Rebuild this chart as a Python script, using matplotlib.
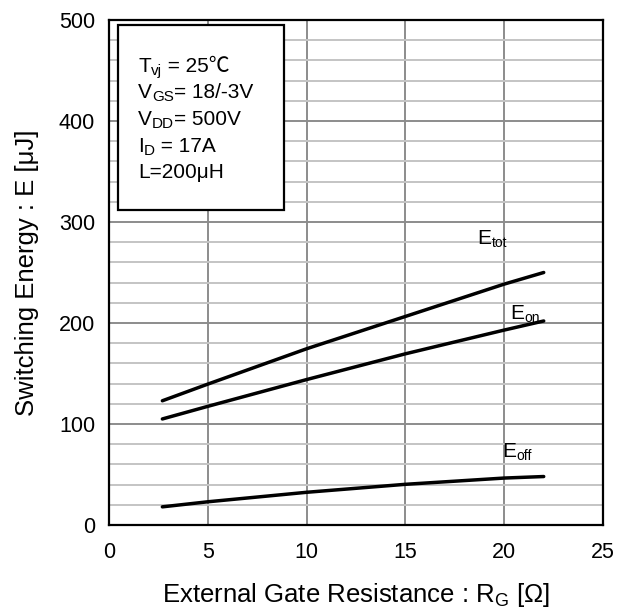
import numpy as np
import matplotlib.pyplot as plt
from matplotlib.ticker import MultipleLocator

plt.rcParams['font.family'] = ['Liberation Sans', 'Noto Sans CJK SC', 'DejaVu Sans']

# gate resistance [ohm] and switching energies [uJ]
rg = [2.7, 5, 10, 15, 20, 22]
e_tot = [123, 139.5, 174.5, 206.5, 238.5, 250]
e_on = [105, 117.5, 144, 169.5, 193, 202]
e_off = [18, 23, 32.4, 40.3, 46.5, 48]

conditions = [
    [('T', False), ('vj', True), (' = 25℃', False)],
    [('V', False), ('GS', True), ('= 18/-3V', False)],
    [('V', False), ('DD', True), ('= 500V', False)],
    [('I', False), ('D', True), (' = 17A', False)],
    [('L=200μH', False)],
]


def sub_text(ax, x, y, pieces, size=14, subsize=10, drop=2, **kw):
    # draw text with subscripts by chaining pieces one after another
    t = ax.text(x, y, pieces[0][0], fontsize=size, va='baseline', **kw)
    prev_sub = False
    for txt, is_sub in pieces[1:]:
        dy = 0
        if is_sub and not prev_sub:
            dy = -drop
        elif prev_sub and not is_sub:
            dy = drop
        t = ax.annotate(txt, xy=(1, 0), xycoords=t,
                        xytext=(0, dy), textcoords='offset points',
                        fontsize=subsize if is_sub else size, va='bottom', **kw)
        prev_sub = is_sub
    return t


fig = plt.figure(figsize=(6.17, 6.09), dpi=100)
ax = fig.add_axes([0.1767, 0.1379, 0.8006, 0.8293])

ax.plot(rg, e_tot, color='black', lw=2.5, solid_capstyle='round')
ax.plot(rg, e_on, color='black', lw=2.5, solid_capstyle='round')
ax.plot(rg, e_off, color='black', lw=2.5, solid_capstyle='round')

ax.set_xlim(0, 25)
ax.set_ylim(0, 500)
ax.xaxis.set_major_locator(MultipleLocator(5))
ax.yaxis.set_major_locator(MultipleLocator(100))
ax.yaxis.set_minor_locator(MultipleLocator(20))
ax.grid(True, which='major', color='#8c8c8c', lw=1.4)
ax.grid(True, which='minor', axis='y', color='#c4c4c4', lw=1.4)
ax.set_axisbelow(True)
ax.tick_params(which='both', length=0, labelsize=15.5)
ax.tick_params(axis='x', pad=12)
ax.tick_params(axis='y', pad=10)
for s in ax.spines.values():
    s.set_linewidth(1.6)

ax.set_xlabel('External Gate Resistance : R$_{\\mathregular{G}}$ [Ω]', fontsize=18.5, labelpad=13)
ax.set_ylabel('Switching Energy : E [μJ]', fontsize=18.5, labelpad=14)

# conditions box
ax.add_patch(plt.Rectangle((0.44, 312), 8.4, 183, facecolor='white',
                           edgecolor='black', lw=1.6, zorder=3))
ys = [448.5, 422.5, 396, 369.5, 343.5]
for yy, line in zip(ys, conditions):
    sub_text(ax, 1.47, yy, line, size=15, subsize=11, drop=1.5, zorder=4)

sub_text(ax, 18.65, 278, [('E', False), ('tot', True)], size=15, subsize=10, drop=1.5)
sub_text(ax, 20.3, 204, [('E', False), ('on', True)], size=15, subsize=10, drop=1.5)
sub_text(ax, 19.9, 67.6, [('E', False), ('off', True)], size=15, subsize=10, drop=1.5)

fig.savefig('out.png', dpi=100)
